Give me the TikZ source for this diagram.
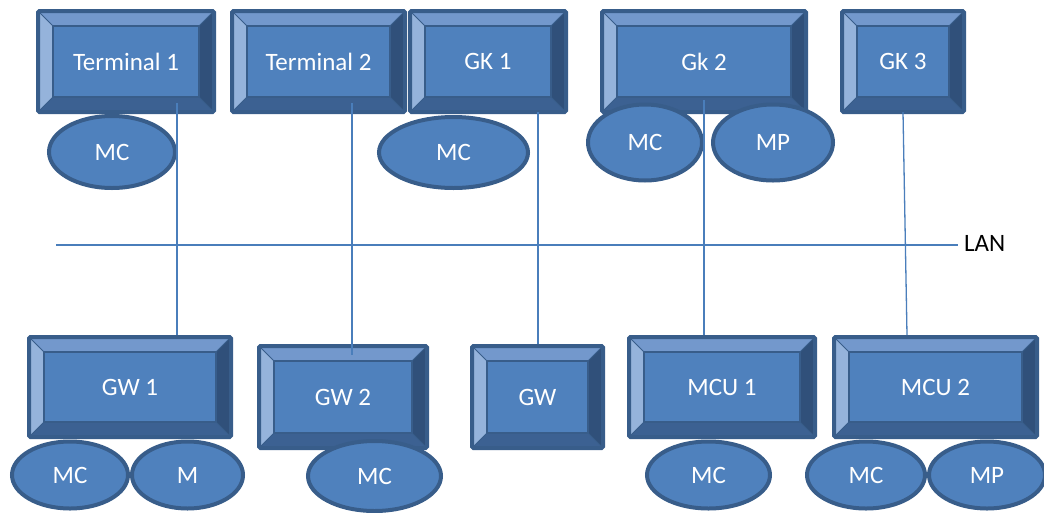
\documentclass[tikz,border=0pt]{standalone}
\usepackage{fontspec}
\setmainfont{Carlito}
\usetikzlibrary{shapes.geometric,calc}

% palette
\definecolor{face}{RGB}{79,129,189}
\definecolor{edge}{RGB}{56,93,138}
\definecolor{bevtop}{RGB}{115,152,204}
\definecolor{bevleft}{RGB}{149,179,219}
\definecolor{bevright}{RGB}{48,80,122}
\definecolor{bevbot}{RGB}{60,97,146}
\definecolor{wire}{RGB}{74,126,187}

\tikzset{
  % rectangle with a four-sided bevel frame
  bevbox/.style={rectangle, draw=edge, line width=4pt, fill=face,
    text=white, inner sep=0pt, rounded corners=1.5pt,
    font=\fontsize{25}{30}\selectfont,
    path picture={
      \path (path picture bounding box.south west) coordinate (sw)
            (path picture bounding box.north east) coordinate (ne);
      \path ([shift={(15pt,15pt)}]sw) coordinate (isw)
            ([shift={(-15pt,-15pt)}]ne) coordinate (ine);
      \fill[bevtop, sharp corners] (sw |- ne) -- (ne) -- (ine) -- (isw |- ine) -- cycle;
      \fill[bevleft, sharp corners] (sw) -- (sw |- ne) -- (isw |- ine) -- (isw) -- cycle;
      \fill[bevright, sharp corners] (ne) -- (ne |- sw) -- (ine |- isw) -- (ine) -- cycle;
      \fill[bevbot, sharp corners] (sw) -- (ne |- sw) -- (ine |- isw) -- (isw) -- cycle;
      \fill[face, sharp corners] (isw) rectangle (ine);
      \draw[edge, line width=2.5pt, sharp corners] (isw) rectangle (ine);
      \draw[edge, line width=1pt, sharp corners]
        (sw) -- (isw) (ne |- sw) -- (ine |- isw)
        (ne) -- (ine) (sw |- ne) -- (isw |- ine);
    }},
  disc/.style={ellipse, draw=edge, line width=4pt, fill=face, text=white,
    inner sep=0pt, font=\fontsize{25}{30}\selectfont},
  link/.style={draw=wire, line width=1.3pt},
  tag/.style={text=black, inner sep=0pt, font=\fontsize{25}{30}\selectfont}
}

\begin{document}
\begin{tikzpicture}[x=1pt, y=-1pt]
\useasboundingbox (0,0) rectangle (1044,512);
\fill[white] (0,0) rectangle (1044,512);

% upper row of stations
\node[bevbox, minimum width=176pt, minimum height=101pt] (t1)  at (126,61.5)   {Terminal 1};
\node[bevbox, minimum width=173pt, minimum height=101pt] (t2)  at (318.5,61.5) {Terminal 2};
\node[bevbox, minimum width=156pt, minimum height=101pt] (gk1) at (488,61.5)   {GK 1};
\node[bevbox, minimum width=204pt, minimum height=101pt] (gk2) at (704,61.5)   {Gk 2};
\node[bevbox, minimum width=122pt, minimum height=101pt] (gk3) at (903,61.5)   {GK 3};

% lower row of stations
\node[bevbox, minimum width=202pt, minimum height=100pt] (gw1)  at (130,387)   {GW 1};
\node[bevbox, minimum width=168pt, minimum height=102pt] (gw2)  at (343,397)   {GW 2};
\node[bevbox, minimum width=131pt, minimum height=102pt] (gw)   at (537.5,397) {GW};
\node[bevbox, minimum width=186pt, minimum height=100pt] (mcu1) at (722,387)   {MCU 1};
\node[bevbox, minimum width=203pt, minimum height=100pt] (mcu2) at (935.5,387) {MCU 2};

% attached units, upper row
\node[disc, minimum width=126pt, minimum height=72pt] (t1mc)  at (112,152)   {MC};
\node[disc, minimum width=149pt, minimum height=71pt] (gk1mc) at (453.5,152.5) {MC};
\node[disc, minimum width=114pt, minimum height=76pt] (gk2mc) at (645,142.5) {MC};
\node[disc, minimum width=120pt, minimum height=76pt] (gk2mp) at (773,142.5) {MP};

% attached units, lower row
\node[disc, minimum width=116pt, minimum height=67pt] (gw1mc)  at (70,475)    {MC};
\node[disc, minimum width=111pt, minimum height=67pt] (gw1m)   at (187.5,475) {M};
\node[disc, minimum width=133pt, minimum height=70pt] (gw2mc)  at (374.5,476) {MC};
\node[disc, minimum width=123pt, minimum height=67pt] (mcu1mc) at (708.5,475) {MC};
\node[disc, minimum width=118pt, minimum height=67pt] (mcu2mc) at (866,475)   {MC};
\node[disc, minimum width=116pt, minimum height=67pt] (mcu2mp) at (987,475)   {MP};

% shared LAN segment
\coordinate (lanA) at (56,245);
\coordinate (lanB) at (958,245);
\draw[link] (lanA) -- (lanB);
\node[tag, anchor=west] (lan) at (964,243) {LAN};

% drops from the upper stations to the lower ones
\coordinate (d1) at (177,103);
\coordinate (d2) at (352,103);
\coordinate (d3) at (538,112);
\coordinate (d4) at (704,100);
\coordinate (d5) at (903,112);
\draw[link] (d1) -- (d1 |- gw1.north);
\draw[link] (d2) -- ($(d2 |- gw2.north)+(0,11)$);
\draw[link] (d3) -- (d3 |- gw.north);
\draw[link] (d4) -- (d4 |- mcu1.north);
\draw[link] (d5) -- ($(d5 |- mcu2.north)+(4,0)$);
\end{tikzpicture}
\end{document}
